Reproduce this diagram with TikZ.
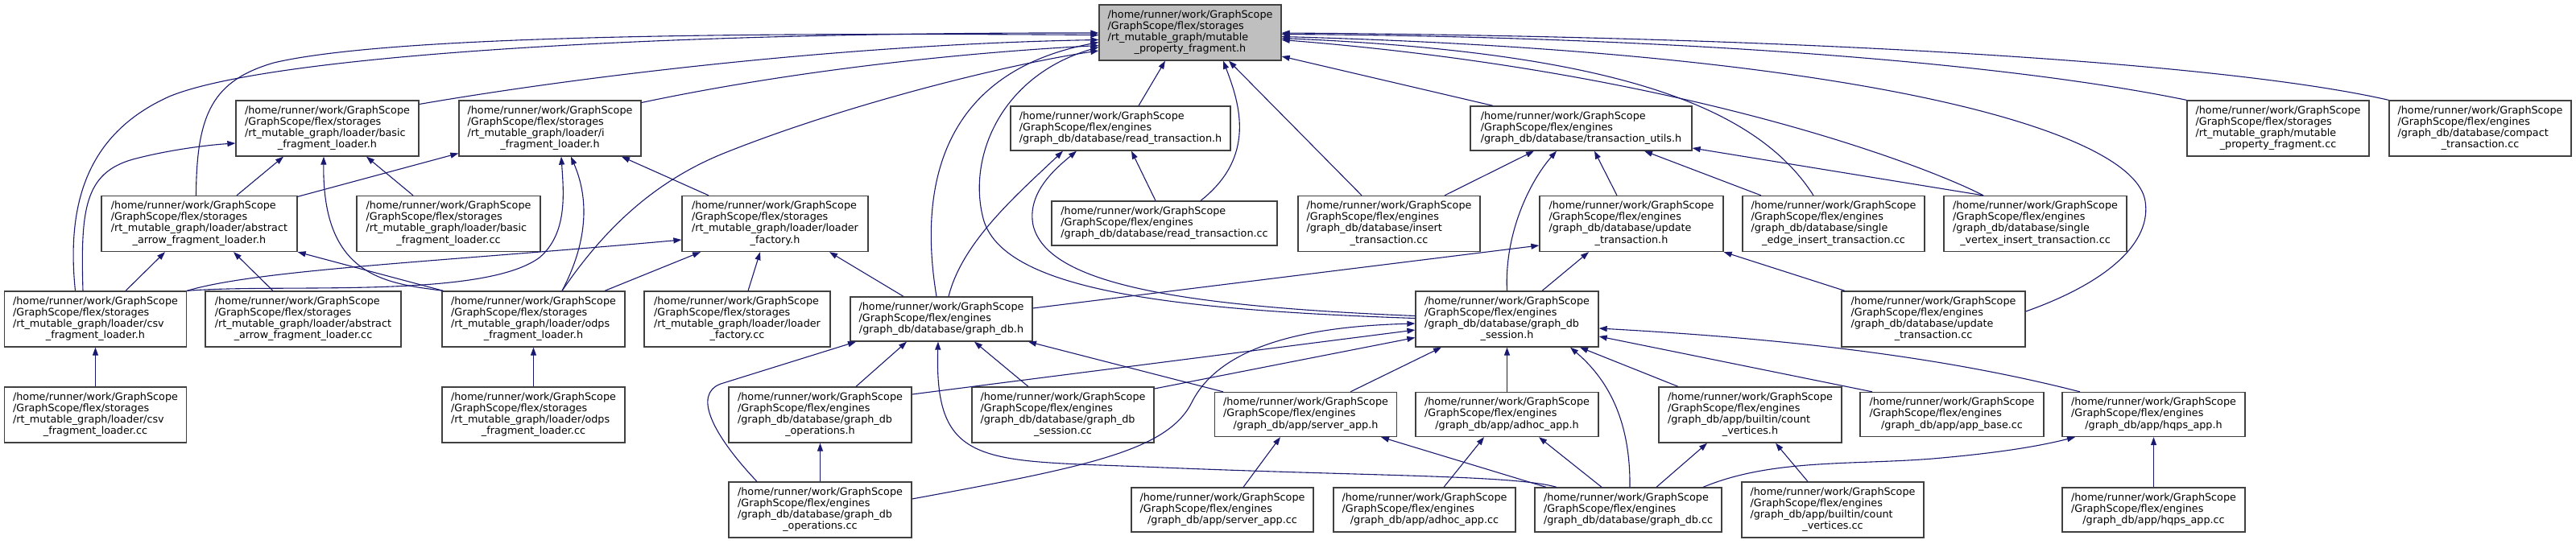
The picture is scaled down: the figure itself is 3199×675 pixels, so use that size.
\documentclass[tikz,border=0pt]{standalone}
\usepackage{fontspec}
\setmainfont{DejaVu Sans}
\usetikzlibrary{arrows.meta,calc}
\definecolor{edgecol}{HTML}{191970}
\definecolor{boxcol}{HTML}{404040}
\definecolor{mainfill}{HTML}{BFBFBF}
\newcommand\pHome{/home/runner/work/GraphScope}
\newcommand\pStor{/GraphScope/flex/storages}
\newcommand\pEng{/GraphScope/flex/engines}
\newcommand\lbfour[4]{\begin{tabular}{@{}l@{}}#1\\#2\\#3\\\multicolumn{1}{@{}c@{}}{#4}\end{tabular}}
\newcommand\lbthree[3]{\begin{tabular}{@{}l@{}}#1\\#2\\\multicolumn{1}{@{}c@{}}{#3}\end{tabular}}
\tikzset{
  fbox/.style={draw=boxcol, line width=1.3pt, fill=white, rectangle, inner xsep=5pt, inner ysep=2pt,
    minimum width=226pt, minimum height=69pt, font=\fontsize{12.76pt}{14.2pt}\selectfont},
  fbox3/.style={fbox, minimum height=55pt},
  dep/.style={draw=edgecol, line width=1.1pt, -{Triangle[length=10pt,width=7pt]}},
}
\begin{document}
\begin{tikzpicture}[x=1pt,y=-1pt]
\useasboundingbox (0,0) rectangle (3199,675);
% nodes
\node[fbox,fill=mainfill] (M) at (1478,40.5) {\lbfour{\pHome}{\pStor}{/rt\_mutable\_graph/mutable}{\_property\_fragment.h}};
\node[fbox,minimum width=227pt] (basich) at (406.5,159.5) {\lbfour{\pHome}{\pStor}{/rt\_mutable\_graph/loader/basic}{\_fragment\_loader.h}};
\node[fbox] (ifragh) at (683,159.5) {\lbfour{\pHome}{\pStor}{/rt\_mutable\_graph/loader/i}{\_fragment\_loader.h}};
\node[fbox,minimum width=243pt] (absh) at (247.5,278) {\lbfour{\pHome}{\pStor}{/rt\_mutable\_graph/loader/abstract}{\_arrow\_fragment\_loader.h}};
\node[fbox,minimum width=228pt] (basiccc) at (557,278) {\lbfour{\pHome}{\pStor}{/rt\_mutable\_graph/loader/basic}{\_fragment\_loader.cc}};
\node[fbox,minimum width=231pt] (lfh) at (962.5,278) {\lbfour{\pHome}{\pStor}{/rt\_mutable\_graph/loader/loader}{\_factory.h}};
\node[fbox3,minimum width=273pt] (readh) at (1391.5,159.5) {\lbthree{\pHome}{\pEng}{/graph\_db/database/read\_transaction.h}};
\node[fbox3,minimum width=280pt] (readcc) at (1446,277.5) {\lbthree{\pHome}{\pEng}{/graph\_db/database/read\_transaction.cc}};
\node[fbox] (insertcc) at (1725,278) {\lbfour{\pHome}{\pEng}{/graph\_db/database/insert}{\_transaction.cc}};
\node[fbox3,minimum width=275pt] (tutilsh) at (1963.5,159.5) {\lbthree{\pHome}{\pEng}{/graph\_db/database/transaction\_utils.h}};
\node[fbox,minimum width=228pt] (updh) at (2026,278) {\lbfour{\pHome}{\pEng}{/graph\_db/database/update}{\_transaction.h}};
\node[fbox] (sedgecc) at (2277,278) {\lbfour{\pHome}{\pEng}{/graph\_db/database/single}{\_edge\_insert\_transaction.cc}};
\node[fbox,minimum width=227pt] (svertexcc) at (2527.5,278) {\lbfour{\pHome}{\pEng}{/graph\_db/database/single}{\_vertex\_insert\_transaction.cc}};
\node[fbox] (mpfcc) at (2829,159.5) {\lbfour{\pHome}{\pStor}{/rt\_mutable\_graph/mutable}{\_property\_fragment.cc}};
\node[fbox] (compactcc) at (3080,159.5) {\lbfour{\pHome}{\pEng}{/graph\_db/database/compact}{\_transaction.cc}};
\node[fbox] (csvh) at (118.5,396.5) {\lbfour{\pHome}{\pStor}{/rt\_mutable\_graph/loader/csv}{\_fragment\_loader.h}};
\node[fbox,minimum width=243pt] (abscc) at (376.5,396.5) {\lbfour{\pHome}{\pStor}{/rt\_mutable\_graph/loader/abstract}{\_arrow\_fragment\_loader.cc}};
\node[fbox,minimum width=227pt] (odpsh) at (662.5,396.5) {\lbfour{\pHome}{\pStor}{/rt\_mutable\_graph/loader/odps}{\_fragment\_loader.h}};
\node[fbox,minimum width=231pt] (lfcc) at (915.5,396.5) {\lbfour{\pHome}{\pStor}{/rt\_mutable\_graph/loader/loader}{\_factory.cc}};
\node[fbox3] (gdbh) at (1169,396.5) {\lbthree{\pHome}{\pEng}{/graph\_db/database/graph\_db.h}};
\node[fbox,minimum width=227pt] (sessh) at (1871.5,396.5) {\lbfour{\pHome}{\pEng}{/graph\_db/database/graph\_db}{\_session.h}};
\node[fbox,minimum width=228pt] (updcc) at (2401,396.5) {\lbfour{\pHome}{\pEng}{/graph\_db/database/update}{\_transaction.cc}};
\node[fbox] (csvcc) at (118.5,515.5) {\lbfour{\pHome}{\pStor}{/rt\_mutable\_graph/loader/csv}{\_fragment\_loader.cc}};
\node[fbox,minimum width=227pt] (odpscc) at (662.5,515.5) {\lbfour{\pHome}{\pStor}{/rt\_mutable\_graph/loader/odps}{\_fragment\_loader.cc}};
\node[fbox,minimum width=227pt] (gopsh) at (1018.5,515.5) {\lbfour{\pHome}{\pEng}{/graph\_db/database/graph\_db}{\_operations.h}};
\node[fbox] (sesscc) at (1320,515.5) {\lbfour{\pHome}{\pEng}{/graph\_db/database/graph\_db}{\_session.cc}};
\node[fbox3] (serverh) at (1621.5,515) {\lbthree{\pHome}{\pEng}{/graph\_db/app/server\_app.h}};
\node[fbox3,minimum width=227pt] (adhoch) at (1871.5,515) {\lbthree{\pHome}{\pEng}{/graph\_db/app/adhoc\_app.h}};
\node[fbox,minimum width=227pt] (counth) at (2173.5,515.5) {\lbfour{\pHome}{\pEng}{/graph\_db/app/builtin/count}{\_vertices.h}};
\node[fbox3,minimum width=228pt] (appbasecc) at (2424,515) {\lbthree{\pHome}{\pEng}{/graph\_db/app/app\_base.cc}};
\node[fbox3,minimum width=227pt] (hqpsh) at (2674.5,515) {\lbthree{\pHome}{\pEng}{/graph\_db/app/hqps\_app.h}};
\node[fbox,minimum width=227pt] (gopscc) at (1018.5,633.5) {\lbfour{\pHome}{\pEng}{/graph\_db/database/graph\_db}{\_operations.cc}};
\node[fbox3] (servercc) at (1518,633.5) {\lbthree{\pHome}{\pEng}{/graph\_db/app/server\_app.cc}};
\node[fbox3] (adhoccc) at (1769,633.5) {\lbthree{\pHome}{\pEng}{/graph\_db/app/adhoc\_app.cc}};
\node[fbox3,minimum width=232pt] (gdbcc) at (2022,633.5) {\lbthree{\pHome}{\pEng}{/graph\_db/database/graph\_db.cc}};
\node[fbox] (countcc) at (2276,633.5) {\lbfour{\pHome}{\pEng}{/graph\_db/app/builtin/count}{\_vertices.cc}};
\node[fbox3,minimum width=227pt] (hqpscc) at (2674.5,633.5) {\lbthree{\pHome}{\pEng}{/graph\_db/app/hqps\_app.cc}};
% edges into mutable_property_fragment.h
\draw[dep] ($(csvh.north)+(-25,0)$) .. controls (82,250) and (110,165) .. (210,120) .. controls (330,70) and (800,40) .. ($(M.west)+(0,0.5)$);
\draw[dep] ($(absh.north)+(-4,0)$) .. controls (244,140) and (265,100) .. (340,78) .. controls (480,45) and (900,40) .. ($(M.west)+(0,3)$);
\draw[dep] ($(basich.east)+(0,-30)$) .. controls (720,95) and (1050,55) .. ($(M.west)+(0,9)$);
\draw[dep] ($(ifragh.east)+(0,-32)$) .. controls (950,95) and (1150,68) .. ($(M.west)+(0,16)$);
\draw[dep] ($(odpsh.north)+(35.5,0)$) .. controls (740,300) and (800,230) .. (900,190) .. controls (1050,130) and (1250,80) .. ($(M.west)+(0,22.5)$);
\draw[dep] ($(gdbh.north)+(-6,0)$) .. controls (1140,230) and (1170,90) .. ($(M.west)+(0,12)$);
\draw[dep] ($(sessh.west)+(0,-1)$) .. controls (1450,385) and (1250,360) .. (1222,275) .. controls (1200,200) and (1240,95) .. ($(M.west)+(0,18)$);
\draw[dep] ($(readh.north)+(22.5,0)$) -- ($(M.south)+(-31,0)$);
\draw[dep] ($(readcc.north)+(45,0)$) .. controls (1560,195) and (1540,130) .. ($(M.south)+(41,0)$);
\draw[dep] ($(insertcc.north)+(-34,0)$) -- ($(M.south)+(48,0)$);
\draw[dep] ($(tutilsh.north)+(-109.5,0)$) -- ($(M.east)+(0,29.5)$);
\draw[dep] (mpfcc.north west) .. controls (2450,70) and (2000,45) .. ($(M.east)+(0,2)$);
\draw[dep] (compactcc.north west) .. controls (2750,75) and (2200,45) .. ($(M.east)+(0,0.5)$);
\draw[dep] ($(sedgecc.north)+(-25,0)$) .. controls (2180,130) and (2000,65) .. ($(M.east)+(0,7)$);
\draw[dep] ($(svertexcc.north)+(-64.5,0)$) .. controls (2400,210) and (2100,90) .. ($(M.east)+(0,9)$);
\draw[dep] ($(updcc.east)+(0,-9.5)$) .. controls (2620,350) and (2672,300) .. (2664,250) .. controls (2650,160) and (2300,65) .. ($(M.east)+(0,5)$);
% basic_fragment_loader.h
\draw[dep] ($(csvh.north)+(-15.5,0)$) .. controls (100,260) and (105,215) .. (165,198) .. controls (210,186) and (260,180) .. ($(basich.west)+(0,18.5)$);
\draw[dep] ($(absh.north)+(46.5,0)$) -- ($(basich.south)+(-54.5,0)$);
\draw[dep] ($(odpsh.north west)+(2,0)$) .. controls (480,352) and (400,345) .. ($(basich.south)+(-4.5,0)$);
\draw[dep] ($(basiccc.north)+(-44,0)$) -- ($(basich.south)+(48.5,0)$);
% i_fragment_loader.h
\draw[dep] ($(absh.north east)+(0,1.5)$) -- ($(ifragh.west)+(0,31)$);
\draw[dep] (csvh.north east) .. controls (350,352) and (600,372) .. (670,320) .. controls (705,290) and (700,240) .. ($(ifragh.south)+(14,0)$);
\draw[dep] ($(odpsh.north)+(35.5,0)$) .. controls (725,310) and (735,255) .. ($(ifragh.south)+(26,0)$);
\draw[dep] ($(lfh.north)+(-82.5,0)$) -- ($(ifragh.south)+(89,0)$);
% abstract_arrow_fragment_loader.h
\draw[dep] ($(csvh.north)+(37.5,0)$) -- ($(absh.south)+(-42.5,0)$);
\draw[dep] ($(abscc.north)+(-37.5,0)$) -- ($(absh.south)+(42.5,0)$);
\draw[dep] ($(odpsh.north west)+(2,0)$) -- (absh.south east);
% loader_factory.h
\draw[dep] (csvh.north east) .. controls (320,335) and (550,325) .. ($(lfh.west)+(0,20)$);
\draw[dep] ($(odpsh.north)+(88.5,0)$) -- ($(lfh.south)+(-92.5,0)$);
\draw[dep] ($(lfcc.north)+(13.5,0)$) -- ($(lfh.south)+(-18.5,0)$);
\draw[dep] ($(gdbh.north)+(-47,0)$) -- ($(lfh.south)+(67.5,0)$);
% csv / odps
\draw[dep] (csvcc.north) -- (csvh.south);
\draw[dep] (odpscc.north) -- (odpsh.south);
% read_transaction.h
\draw[dep] ($(gdbh.north)+(9,0)$) .. controls (1195,300) and (1265,240) .. ($(readh.south)+(-71.5,0)$);
\draw[dep] ($(sessh.west)+(0,-4)$) .. controls (1450,380) and (1300,350) .. (1283,280) .. controls (1275,240) and (1310,210) .. ($(readh.south)+(-54.5,0)$);
\draw[dep] ($(readcc.north)+(-11,0)$) -- ($(readh.south)+(13.5,0)$);
% transaction_utils.h
\draw[dep] ($(insertcc.north)+(69,0)$) -- ($(tutilsh.south)+(-58.5,0)$);
\draw[dep] (sessh.north) .. controls (1868,290) and (1900,225) .. ($(tutilsh.south)+(-30.5,0)$);
\draw[dep] ($(updh.north)+(-18,0)$) -- ($(tutilsh.south)+(16.5,0)$);
\draw[dep] ($(sedgecc.north)+(-90,0)$) -- ($(tutilsh.south)+(78.5,0)$);
\draw[dep] ($(svertexcc.north)+(-64.5,0)$) -- ($(tutilsh.east)+(0,24.5)$);
% update_transaction.h
\draw[dep] ($(gdbh.east)+(0,-13.5)$) -- ($(updh.west)+(0,27)$);
\draw[dep] ($(sessh.north)+(43.5,0)$) -- ($(updh.south)+(-53,0)$);
\draw[dep] ($(updcc.north)+(-110,0)$) -- (updh.south east);
% graph_db.h
\draw[dep] ($(gopscc.north)+(-78.5,0)$) .. controls (885,540) and (860,490) .. (895,477) -- ($(gdbh.south)+(-106,0)$);
\draw[dep] ($(gopsh.north)+(44.5,0)$) -- ($(gdbh.south)+(-43,0)$);
\draw[dep] ($(gdbcc.north)+(-89,0)$) .. controls (1880,590) and (1700,592) .. (1420,580) .. controls (1220,572) and (1160,580) .. ($(gdbh.south)+(-4,0)$);
\draw[dep] ($(sesscc.north)+(-43,0)$) -- ($(gdbh.south)+(41,0)$);
\draw[dep] ($(serverh.north)+(-102.5,0)$) -- ($(gdbh.south)+(108,0)$);
% graph_db_session.h
\draw[dep] ($(gopscc.east)+(0,-13.5)$) .. controls (1350,580) and (1450,560) .. (1480,500) .. controls (1520,420) and (1650,405) .. ($(sessh.west)+(0,5.5)$);
\draw[dep] ($(gopsh.east)+(0,-25.5)$) -- ($(sessh.west)+(0,13.5)$);
\draw[dep] ($(sesscc.east)+(0,-32.5)$) -- ($(sessh.west)+(0,23)$);
\draw[dep] ($(serverh.north)+(55.5,0)$) -- ($(sessh.south)+(-81.5,0)$);
\draw[dep] (adhoch.north) -- (sessh.south);
\draw[dep] ($(gdbcc.north)+(2,0)$) .. controls (2025,520) and (1995,470) .. ($(sessh.south)+(78.5,0)$);
\draw[dep] ($(counth.north)+(-89.5,0)$) -- ($(sessh.south)+(90.5,0)$);
\draw[dep] ($(appbasecc.north)+(-99,0)$) -- ($(sessh.east)+(0,21.5)$);
\draw[dep] ($(hqpsh.north)+(-91.5,0)$) .. controls (2400,440) and (2200,420) .. ($(sessh.east)+(0,11.5)$);
% app headers
\draw[dep] ($(servercc.north)+(26,0)$) -- ($(serverh.south)+(-31.5,0)$);
\draw[dep] ($(gdbcc.north)+(-102,0)$) -- ($(serverh.south)+(93.5,0)$);
\draw[dep] ($(adhoccc.north)+(24,0)$) -- ($(adhoch.south)+(-28.5,0)$);
\draw[dep] ($(gdbcc.north)+(-33,0)$) -- ($(adhoch.south)+(39.5,0)$);
\draw[dep] ($(gdbcc.north)+(35,0)$) -- ($(counth.south)+(-53.5,0)$);
\draw[dep] ($(countcc.north)+(-31,0)$) -- ($(counth.south)+(31.5,0)$);
\draw[dep] ($(gdbcc.north)+(93,0)$) .. controls (2200,570) and (2300,578) .. (2400,570) .. controls (2480,563) and (2530,555) .. ($(hqpsh.south)+(-97.5,0)$);
\draw[dep] (hqpscc.north) -- (hqpsh.south);
\draw[dep] (gopscc.north) -- (gopsh.south);
\end{tikzpicture}
\end{document}
